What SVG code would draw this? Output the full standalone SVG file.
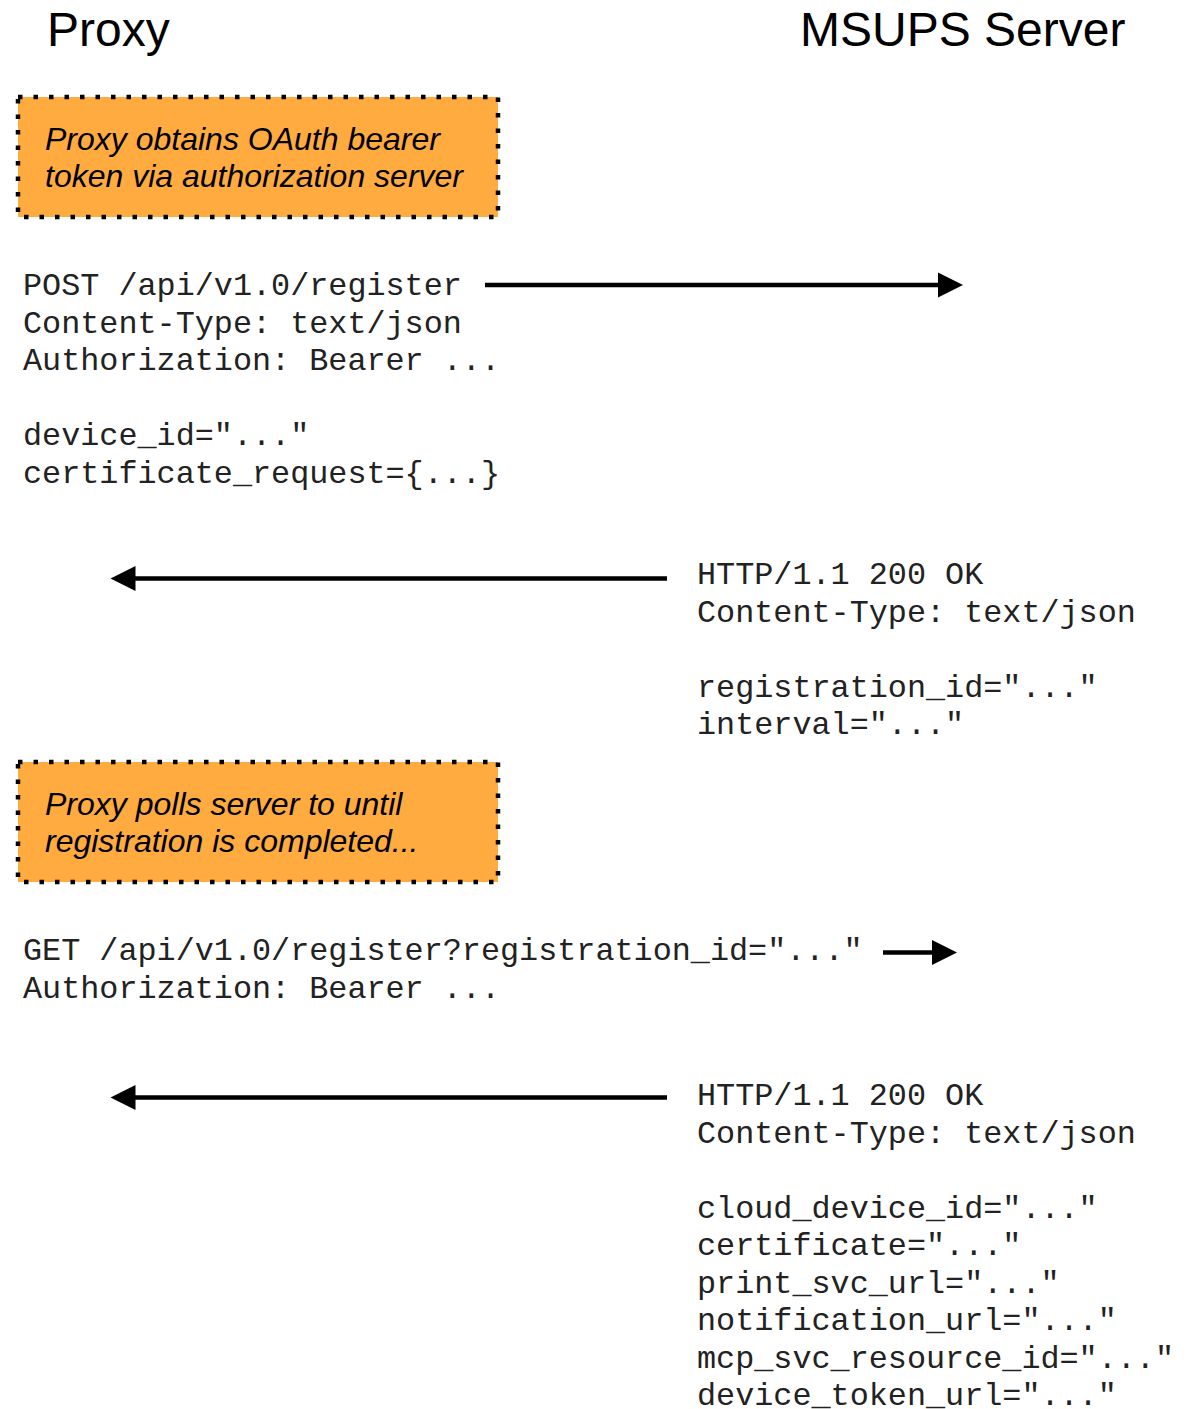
<svg xmlns="http://www.w3.org/2000/svg" width="1201" height="1409" viewBox="0 0 1201 1409">
<style>
.title{font-family:"Liberation Sans",Arial,sans-serif;font-size:48px;fill:#000}
.note{font-family:"Liberation Sans",Arial,sans-serif;font-size:32px;font-style:italic;fill:#000}
.mono{font-family:"Liberation Mono","Courier New",monospace;font-size:31.8px;fill:#222}
.box{fill:#FFAB40;stroke:#000;stroke-width:4.5;stroke-dasharray:4.5 11}
.conn{stroke:#000;stroke-width:4.7;fill:none}
.head{fill:#000}
</style>
<rect width="1201" height="1409" fill="#fff"/>
<g id="lane-proxy"><text class="title" x="47" y="46">Proxy</text></g>
<g id="lane-server"><text class="title" x="800" y="46">MSUPS Server</text></g>
<g id="note-oauth">
<rect class="box" x="18" y="97" width="480" height="120"/>
<text class="note" x="45" y="150">Proxy obtains OAuth bearer</text>
<text class="note" x="45" y="187">token via authorization server</text>
</g>
<g id="msg-register-post">
<text class="mono" x="23" y="295">POST /api/v1.0/register</text>
<text class="mono" x="23" y="332.5">Content-Type: text/json</text>
<text class="mono" x="23" y="370">Authorization: Bearer ...</text>
<text class="mono" x="23" y="445">device_id="..."</text>
<text class="mono" x="23" y="482.5">certificate_request={...}</text>
</g>
<g id="msg-register-resp">
<text class="mono" x="697" y="584">HTTP/1.1 200 OK</text>
<text class="mono" x="697" y="621.5">Content-Type: text/json</text>
<text class="mono" x="697" y="696.5">registration_id="..."</text>
<text class="mono" x="697" y="734">interval="..."</text>
</g>
<g id="note-poll">
<rect class="box" x="18" y="762" width="480" height="120"/>
<text class="note" x="45" y="815">Proxy polls server to until</text>
<text class="note" x="45" y="852">registration is completed...</text>
</g>
<g id="msg-poll-get">
<text class="mono" x="23" y="960">GET /api/v1.0/register?registration_id="..."</text>
<text class="mono" x="23" y="997.5">Authorization: Bearer ...</text>
</g>
<g id="msg-poll-resp">
<text class="mono" x="697" y="1105">HTTP/1.1 200 OK</text>
<text class="mono" x="697" y="1142.5">Content-Type: text/json</text>
<text class="mono" x="697" y="1217.5">cloud_device_id="..."</text>
<text class="mono" x="697" y="1255">certificate="..."</text>
<text class="mono" x="697" y="1292.5">print_svc_url="..."</text>
<text class="mono" x="697" y="1330">notification_url="..."</text>
<text class="mono" x="697" y="1367.5">mcp_svc_resource_id="..."</text>
<text class="mono" x="697" y="1405">device_token_url="..."</text>
</g>
<g id="connectors">
<line class="conn" x1="485" y1="285" x2="940" y2="285"/>
<polygon class="head" points="938,272.5 963,285 938,297.5"/>
<line class="conn" x1="667" y1="578.5" x2="133" y2="578.5"/>
<polygon class="head" points="135.5,566 110.5,578.5 135.5,591"/>
<line class="conn" x1="883" y1="952.5" x2="934" y2="952.5"/>
<polygon class="head" points="932,940 957,952.5 932,965"/>
<line class="conn" x1="667" y1="1097.5" x2="133" y2="1097.5"/>
<polygon class="head" points="135.5,1085 110.5,1097.5 135.5,1110"/>
</g>
</svg>
